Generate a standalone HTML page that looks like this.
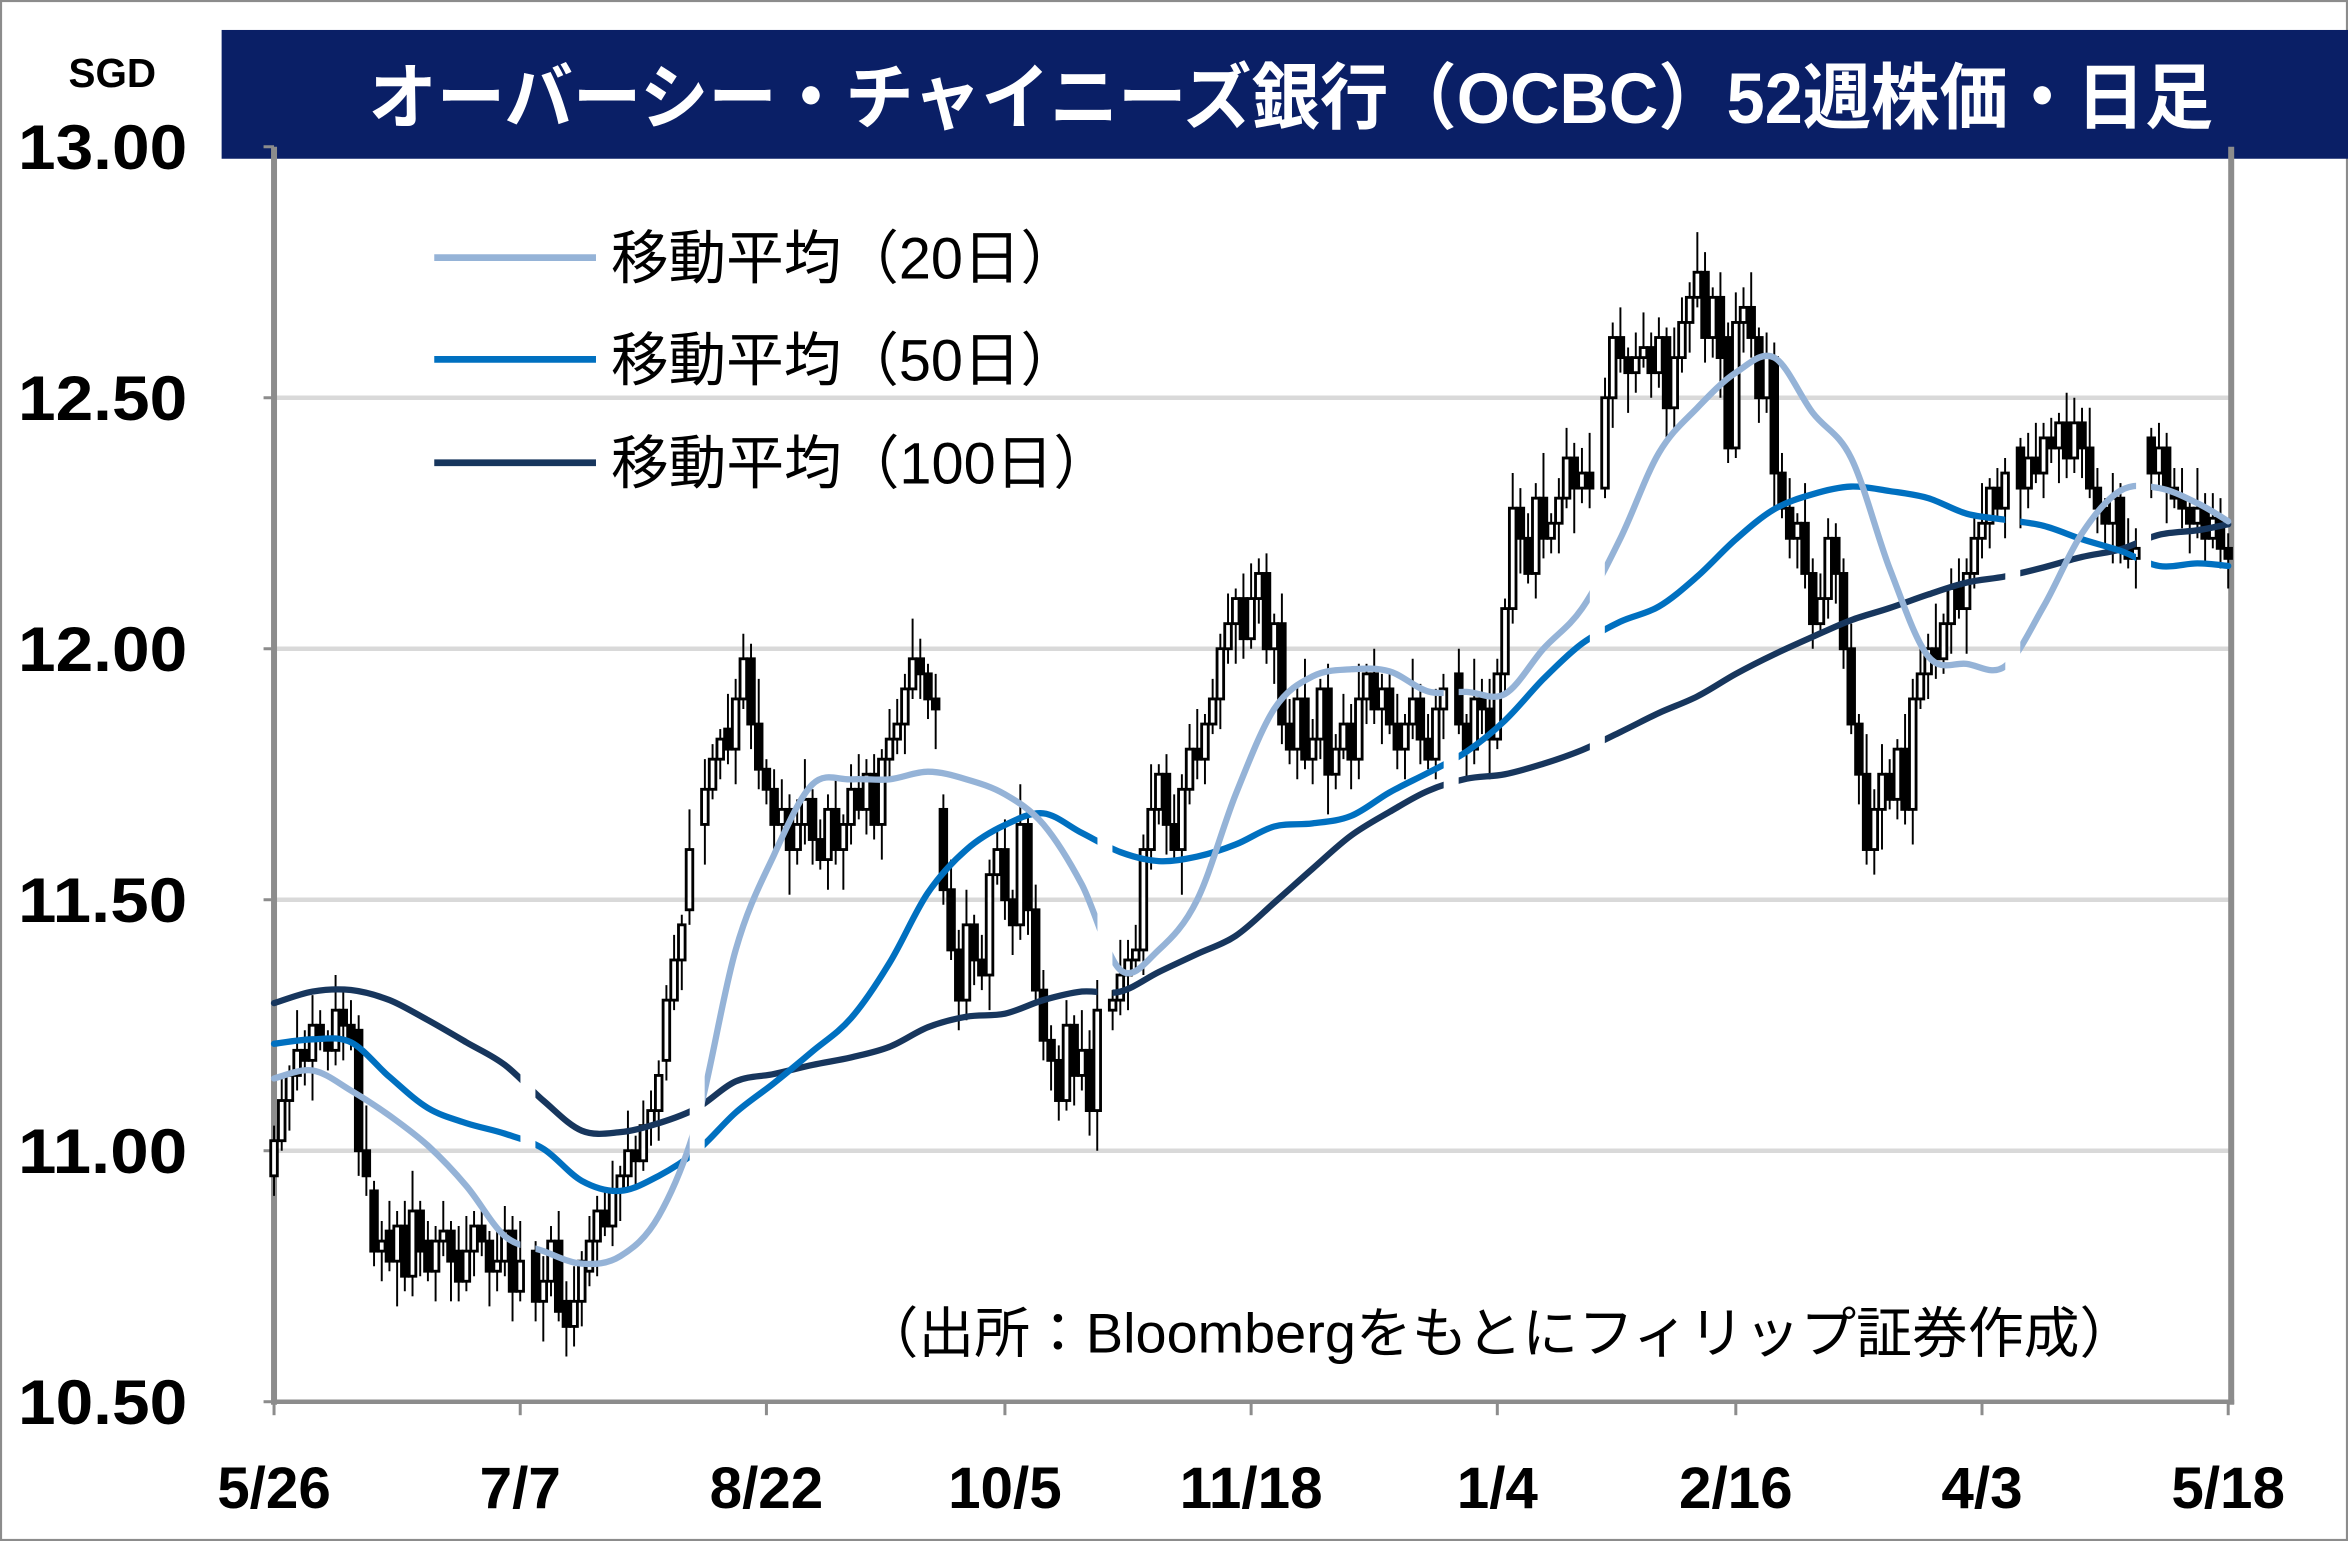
<!DOCTYPE html>
<html><head><meta charset="utf-8"><style>
html,body{margin:0;padding:0;background:#fff;}
svg{display:block;}
text{font-family:"Liberation Sans","Noto Sans CJK JP",sans-serif;}
</style></head><body>
<svg id="chart" width="2348" height="1541" viewBox="0 0 1568 1029" preserveAspectRatio="none" xmlns="http://www.w3.org/2000/svg">
<rect x="0.7" y="0.7" width="1566.6" height="1027.6" fill="#fff" stroke="#8c8c8c" stroke-width="1.4"/>
<g id="grid"></g>
<rect x="148" y="20" width="1420" height="86" fill="#0a1f66"/>
<text x="862" y="82" text-anchor="middle" font-size="48" font-weight="bold" fill="#fff" textLength="1232" lengthAdjust="spacingAndGlyphs">オーバーシー・チャイニーズ銀行（OCBC）52週株価・日足</text>
<text x="75" y="58" text-anchor="middle" font-size="27" font-weight="bold" fill="#000">SGD</text>
<g id="axes"></g>
<defs><mask id="gapmask"><rect x="0" y="0" width="1568" height="1029" fill="#fff"/><g id="gaprects"></g></mask></defs>
<g id="candles"></g>
<g id="malines" mask="url(#gapmask)"></g>
<g>
<line x1="290" y1="172" x2="398" y2="172" stroke="#95b3d7" stroke-width="4.5"/>
<text x="408" y="186" font-size="39" fill="#000" textLength="312" lengthAdjust="spacingAndGlyphs">移動平均（20日）</text>
<line x1="290" y1="240" x2="398" y2="240" stroke="#0070c0" stroke-width="4.5"/>
<text x="408" y="254" font-size="39" fill="#000" textLength="312" lengthAdjust="spacingAndGlyphs">移動平均（50日）</text>
<line x1="290" y1="309" x2="398" y2="309" stroke="#17365d" stroke-width="4.5"/>
<text x="408" y="323" font-size="39" fill="#000" textLength="334" lengthAdjust="spacingAndGlyphs">移動平均（100日）</text>
</g>
<text x="576" y="903" font-size="37" fill="#000" textLength="850" lengthAdjust="spacingAndGlyphs">（出所：Bloombergをもとにフィリップ証券作成）</text>
</svg>
<script>
const yTicks=[10.5,11.0,11.5,12.0,12.5,13.0];
const yTickLabels=["10.50","11.00","11.50","12.00","12.50","13.00"];
const xTickDays=[0,32,64,95,127,159,190,222,254];
const xTickLabels=["5/26","7/7","8/22","10/5","11/18","1/4","2/16","4/3","5/18"];
const gapDays=[33,55,108,153,172,226,243];
const closes=[1102,1110,1115,1120,1118,1125,1122,1120,1128,1125,1122,1100,1095,1080,1082,1078,1085,1075,1088,1080,1076,1082,1084,1078,1074,1080,1085,1082,1076,1078,1084,1072,1078,1080,1070,1074,1082,1068,1065,1070,1078,1082,1088,1085,1092,1095,1100,1098,1105,1108,1115,1130,1138,1145,1160,1165,1172,1178,1182,1180,1190,1198,1185,1176,1172,1165,1168,1160,1165,1170,1162,1158,1168,1160,1165,1172,1168,1175,1165,1178,1182,1185,1192,1198,1195,1190,1188,1152,1140,1130,1145,1138,1135,1155,1160,1150,1145,1165,1148,1132,1122,1118,1110,1125,1115,1120,1108,1128,1115,1130,1135,1138,1140,1160,1168,1175,1165,1160,1172,1180,1178,1185,1190,1200,1205,1210,1202,1210,1215,1200,1205,1185,1180,1190,1178,1182,1192,1175,1180,1185,1178,1190,1195,1188,1192,1185,1180,1185,1190,1182,1178,1188,1192,1195,1185,1180,1190,1188,1182,1195,1208,1228,1222,1215,1230,1222,1225,1230,1238,1232,1235,1232,1255,1250,1262,1258,1255,1258,1260,1255,1262,1248,1258,1265,1270,1275,1262,1270,1258,1240,1265,1268,1262,1250,1258,1235,1228,1222,1225,1215,1205,1210,1222,1215,1200,1185,1175,1160,1168,1175,1170,1180,1168,1190,1195,1200,1198,1205,1212,1208,1215,1222,1225,1232,1228,1235,1240,1232,1238,1235,1242,1240,1245,1238,1245,1240,1232,1228,1225,1230,1220,1218,1220,1242,1235,1240,1232,1230,1228,1225,1228,1222,1226,1220,1218];
const opens=[1095,1102,1110,1115,1120,1118,1125,1122,1120,1128,1125,1124,1100,1092,1080,1084,1078,1085,1075,1088,1082,1076,1082,1084,1080,1074,1080,1085,1082,1076,1078,1084,1072,1078,1080,1070,1074,1082,1070,1065,1070,1076,1082,1088,1085,1092,1095,1100,1098,1105,1108,1118,1130,1138,1148,1160,1165,1172,1178,1184,1180,1190,1198,1185,1176,1172,1165,1168,1160,1165,1170,1162,1158,1168,1160,1165,1172,1168,1175,1165,1178,1182,1185,1192,1198,1195,1190,1168,1152,1140,1130,1145,1138,1135,1155,1160,1150,1145,1165,1148,1132,1122,1118,1110,1125,1115,1120,1108,1122,1128,1130,1135,1138,1140,1160,1168,1175,1165,1160,1172,1180,1178,1185,1190,1200,1205,1210,1202,1210,1215,1200,1205,1185,1180,1190,1178,1182,1192,1175,1180,1185,1178,1190,1195,1188,1192,1185,1180,1185,1190,1182,1178,1188,1192,1195,1185,1180,1190,1188,1182,1195,1208,1228,1222,1215,1230,1222,1225,1230,1238,1232,1235,1230,1232,1250,1262,1258,1255,1258,1260,1255,1262,1248,1258,1265,1270,1275,1262,1270,1262,1240,1265,1268,1262,1250,1258,1235,1228,1222,1225,1215,1205,1210,1222,1215,1200,1185,1175,1160,1168,1175,1170,1180,1168,1190,1195,1200,1198,1205,1212,1208,1215,1222,1225,1232,1228,1235,1240,1232,1238,1235,1242,1240,1245,1238,1245,1240,1232,1228,1225,1230,1220,1218,1224,1242,1235,1240,1232,1230,1228,1225,1228,1222,1226,1220];
const wickUp=[3,5,2,8,4,6,3,2,7,4,5,3,9,2,4,6,3,5,8,2,4,3,6,2,5,7,3,4,2,6,5,3,8,4,2,5,3,6,4,7,2,5,3,4,6,2,8,3,5,4,3];
const wickDn=[4,2,6,3,5,8,2,4,3,7,2,5,4,3,6,2,9,3,4,5,2,6,3,8,4,2,5,3,7,4,3,6,2,5,4,8,3,2,6,4,5,3,7,2,4,6,3,5,2,4,6];
const ma20=[11.144,11.16,11.12,11.07,11.01,10.93,10.83,10.80,10.775,10.79,10.87,11.06,11.40,11.59,11.73,11.74,11.74,11.755,11.74,11.71,11.65,11.53,11.36,11.40,11.50,11.71,11.88,11.945,11.959,11.955,11.915,11.914,11.91,12.00,12.08,12.22,12.39,12.48,12.55,12.58,12.47,12.38,12.16,11.985,11.97,11.965,12.084,12.23,12.315,12.32,12.29,12.254];
const ma50=[11.213,11.222,11.216,11.147,11.085,11.055,11.034,11.004,10.94,10.92,10.95,11.0,11.076,11.135,11.198,11.264,11.374,11.514,11.60,11.649,11.672,11.633,11.595,11.577,11.586,11.61,11.646,11.652,11.667,11.714,11.753,11.795,11.857,11.94,12.01,12.054,12.084,12.144,12.218,12.278,12.308,12.323,12.314,12.30,12.269,12.257,12.245,12.218,12.195,12.165,12.17,12.165];
const ma100=[11.294,11.317,11.32,11.30,11.26,11.216,11.171,11.10,11.04,11.037,11.055,11.085,11.138,11.153,11.171,11.186,11.207,11.246,11.267,11.273,11.30,11.317,11.317,11.356,11.392,11.428,11.494,11.562,11.628,11.675,11.717,11.741,11.75,11.771,11.798,11.834,11.872,11.905,11.95,11.989,12.024,12.057,12.081,12.108,12.132,12.144,12.162,12.183,12.198,12.227,12.236,12.248];
const maSampleStep=5;

const NS="http://www.w3.org/2000/svg";
const X0=183,X1=1488,Y0=936,Y1=98,PMIN=10.5,PMAX=13.0,NDAYS=254;
function xScale(d){return X0+(X1-X0)*d/NDAYS;}
function yScale(p){return Y0-(p-PMIN)/(PMAX-PMIN)*(Y0-Y1);}
function mk(tag,attrs,parent){const e=document.createElementNS(NS,tag);for(const k in attrs)e.setAttribute(k,attrs[k]);parent.appendChild(e);return e;}

const grid=document.getElementById('grid');
yTicks.forEach((v,i)=>{
  if(i>0){const g=mk('line',{x1:X0,x2:1490,y1:yScale(v),y2:yScale(v),stroke:'#d9d9d9','stroke-width':3},grid);
  
  }
});
const axes=document.getElementById('axes');
let a=mk('line',{x1:X0,x2:X0,y1:98,y2:Y0+2,stroke:'#8c8c8c','stroke-width':4},axes);


a=mk('line',{x1:1490,x2:1490,y1:98,y2:Y0+2,stroke:'#8c8c8c','stroke-width':4},axes);


a=mk('line',{x1:X0-2,x2:1492,y1:Y0,y2:Y0,stroke:'#8c8c8c','stroke-width':3},axes);


yTicks.forEach((v,i)=>{
  const t=mk('text',{x:125,y:yScale(v)+15,'text-anchor':'end','font-size':42,'font-weight':'bold',fill:'#000',textLength:113,lengthAdjust:'spacingAndGlyphs'},axes);
  t.textContent=yTickLabels[i];
  
  
  const tk=mk('line',{x1:X0-7,x2:X0,y1:yScale(v),y2:yScale(v),stroke:'#8c8c8c','stroke-width':2},axes);
  
  
});
xTickDays.forEach((d,i)=>{
  const x=xScale(d);
  const tk=mk('line',{x1:x,x2:x,y1:Y0,y2:Y0+9,stroke:'#8c8c8c','stroke-width':2},axes);
  
  
  const t=mk('text',{x:x,y:1007,'text-anchor':'middle','font-size':39,'font-weight':'bold',fill:'#000'},axes);
  t.textContent=xTickLabels[i];
  
  
});

const cg=document.getElementById('candles');
const bw=4.4;
for(let i=0;i<closes.length;i++){
  if(gapDays.includes(i))continue;
  const o=opens[i]/100,c=closes[i]/100;
  const hi=Math.max(o,c)+wickUp[i%wickUp.length]/100,lo=Math.min(o,c)-wickDn[i%wickDn.length]/100;
  const x=xScale(i);
  const w=mk('line',{x1:x,x2:x,y1:yScale(hi),y2:yScale(lo),stroke:'#000','stroke-width':1.3},cg);
  
  
  const top=yScale(Math.max(o,c)),bot=yScale(Math.min(o,c));
  const r=mk('rect',{x:x-bw/2,y:top,width:bw,height:Math.max(bot-top,1.2),fill:c>=o?'#fff':'#000',stroke:'#000','stroke-width':1.9},cg);
  
  
}

const gr=document.getElementById('gaprects');
gapDays.forEach(d=>{mk('rect',{x:xScale(d)-5,y:0,width:10,height:1029,fill:'#000'},gr);});

function smoothPath(pts){
  let s='M'+pts[0][0]+','+pts[0][1];
  for(let i=0;i<pts.length-1;i++){
    const p0=pts[Math.max(i-1,0)],p1=pts[i],p2=pts[i+1],p3=pts[Math.min(i+2,pts.length-1)];
    const c1=[p1[0]+(p2[0]-p0[0])/6,p1[1]+(p2[1]-p0[1])/6];
    const c2=[p2[0]-(p3[0]-p1[0])/6,p2[1]-(p3[1]-p1[1])/6];
    s+='C'+c1[0].toFixed(1)+','+c1[1].toFixed(1)+' '+c2[0].toFixed(1)+','+c2[1].toFixed(1)+' '+p2[0].toFixed(1)+','+p2[1].toFixed(1);
  }
  return s;
}
const mg=document.getElementById('malines');
[[ma100,'#17365d','ma100-line'],[ma50,'#0070c0','ma50-line'],[ma20,'#95b3d7','ma20-line']].forEach(([arr,col,name])=>{
  const pts=arr.map((v,i)=>[xScale(Math.min(i*maSampleStep,NDAYS)),yScale(v)]);
  const p=mk('path',{d:smoothPath(pts),fill:'none',stroke:col,'stroke-width':4.2,'stroke-linecap':'round','stroke-linejoin':'round'},mg);
  
  
});
</script>
</body></html>
